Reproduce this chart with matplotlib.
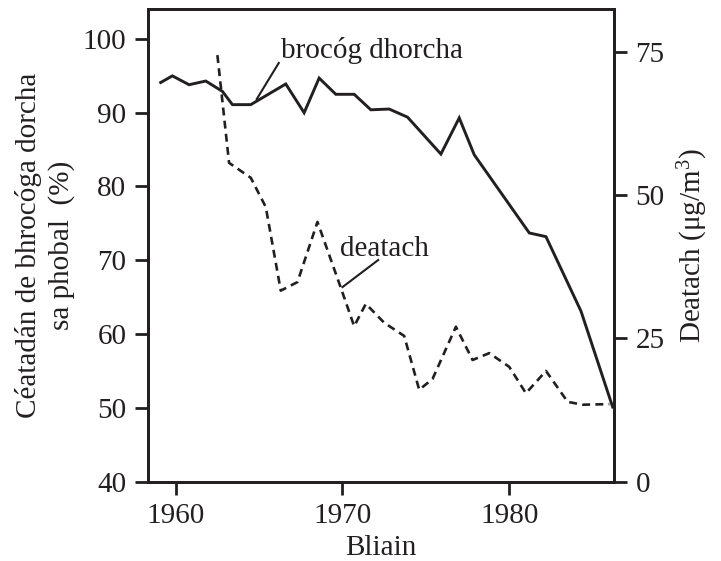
import matplotlib
matplotlib.use("Agg")
import matplotlib.pyplot as plt

plt.rcParams['font.family'] = ['Liberation Serif', 'DejaVu Serif']
plt.rcParams['mathtext.fontset'] = 'custom'
plt.rcParams['mathtext.rm'] = 'Liberation Serif'
plt.rcParams['mathtext.it'] = 'Liberation Serif:italic'

ink = '#231f20'

# brocog dhorcha (% of population, left axis)
dark_years = [1959.1, 1959.8, 1960.8, 1961.8, 1962.8, 1963.4, 1964.5, 1966.6,
              1967.7, 1968.6, 1969.6, 1970.7, 1971.7, 1972.8, 1973.9, 1975.9,
              1977.0, 1977.9, 1981.2, 1982.2, 1984.3, 1986.2]
dark_pct = [94.1, 95.0, 93.8, 94.3, 92.9, 91.1, 91.1, 93.9,
            90.0, 94.7, 92.5, 92.5, 90.4, 90.5, 89.4, 84.4,
            89.3, 84.3, 73.7, 73.2, 63.1, 50.1]

# deatach (ug/m3, right axis)
smoke_years = [1962.5, 1963.2, 1964.5, 1965.4, 1966.3, 1967.3, 1968.5, 1969.9,
               1970.7, 1971.4, 1972.5, 1973.7, 1974.6, 1975.4, 1976.8, 1977.8,
               1978.8, 1980.0, 1981.0, 1982.2, 1983.5, 1984.4, 1986.0]
smoke = [74.4, 55.6, 53.0, 47.9, 33.3, 34.8, 45.3, 33.8,
         27.1, 31.0, 27.7, 25.4, 16.0, 17.9, 27.0, 21.2,
         22.4, 20.0, 15.4, 19.3, 13.9, 13.4, 13.5]

fs = 21
fig = plt.figure(figsize=(7.21, 5.61), dpi=100)
ax = fig.add_axes([0.2053, 0.1417, 0.6463, 0.8423])
ax2 = ax.twinx()

ax.plot(dark_years, dark_pct, color=ink, lw=2.1, solid_joinstyle='miter')
ax2.plot(smoke_years, smoke, color=ink, lw=1.9, linestyle=(0, (3.0, 2.0)))

ax.set_xlim(1958.34, 1986.28)
ax.set_ylim(40, 104.07)
ax2.set_ylim(0, 82.45)

ax.set_xticks([1960, 1970, 1980])
ax.set_yticks([40, 50, 60, 70, 80, 90, 100])
ax2.set_yticks([0, 25, 50, 75])

for a in (ax, ax2):
    for s in a.spines.values():
        s.set_linewidth(2.0)
        s.set_color(ink)
    a.tick_params(axis='both', direction='out', length=9.5, width=2.0,
                  color=ink, labelsize=fs, labelcolor=ink, pad=6)

ax.set_xlabel('Bliain', fontsize=fs, color=ink, labelpad=4)
ax.set_ylabel('Céatadán de bhrocóga dorcha\nsa phobal  (%)', fontsize=fs,
              color=ink, labelpad=6, linespacing=1.25)
ax2.set_ylabel('Deatach (μg/m$^3$)', fontsize=fs, color=ink, labelpad=8)

# labels with leader lines
ax.text(1966.3, 97.46, 'brocóg dhorcha', fontsize=fs, color=ink,
        va='baseline', ha='left')
ax.plot([1964.86, 1966.18], [91.86, 96.75], color=ink, lw=1.5)
ax.text(1969.84, 70.58, 'deatach', fontsize=fs, color=ink,
        va='baseline', ha='left')
ax.plot([1970.0, 1972.14], [66.36, 70.03], color=ink, lw=1.5)

fig.savefig('out.png', dpi=100)
